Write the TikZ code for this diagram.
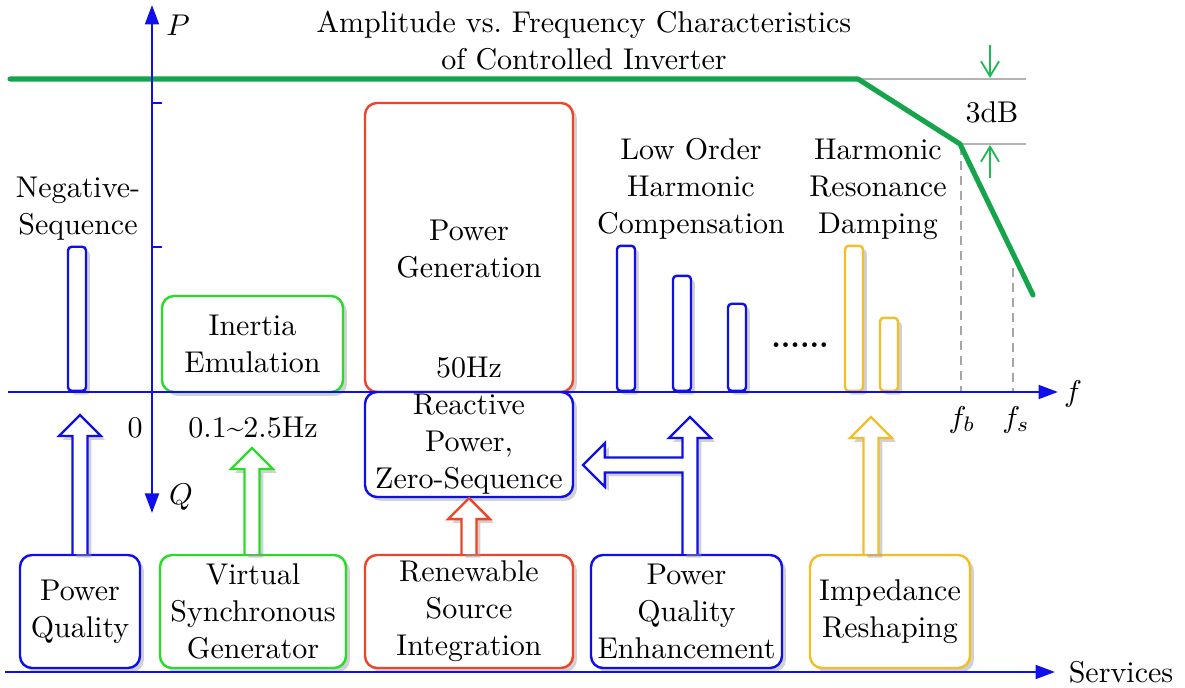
\documentclass[tikz,border=0pt]{standalone}
\usetikzlibrary{arrows.meta,shadows,calc}
\definecolor{cb}{RGB}{15,15,235}
\definecolor{cg}{RGB}{40,220,40}
\definecolor{cr}{RGB}{235,70,40}
\definecolor{cy}{RGB}{245,190,40}
\definecolor{gl}{RGB}{20,165,75}
\definecolor{ga}{RGB}{30,185,80}
\newcommand\hollowup[3]{\draw[harrow,draw=#1] let \p1=(#2), \p2=(#3) in
  (\x2-2.5pt,\y1) -- (\x2-2.5pt,\y2-7pt) -- (\x2-7pt,\y2-7pt) -- (\x2,\y2)
  -- (\x2+7pt,\y2-7pt) -- (\x2+2.5pt,\y2-7pt) -- (\x2+2.5pt,\y1);}
\begin{document}
\begin{tikzpicture}[x=0.33333pt,y=-0.33333pt,
  font=\fontsize{10}{12.33}\selectfont,
  shd/.style={drop shadow={shadow xshift=1.3pt,shadow yshift=-1.3pt,fill=black!40,opacity=0.45}},
  box/.style={draw, line width=0.8pt, rounded corners=4pt, fill=white, inner sep=0pt, align=center, shd},
  bar/.style={draw, line width=0.8pt, rounded corners=1.2pt, fill=white, inner sep=0pt, minimum width=6pt, anchor=south, shd},
  harrow/.style={line width=0.8pt, fill=white, line join=miter, shd},
  axis/.style={cb, line width=0.85pt},
  lbl/.style={align=center, inner sep=0pt},
  gref/.style={black!30, line width=0.8pt},
  gdash/.style={black!35, line width=0.6pt, dash pattern=on 3pt off 2pt},
  tarrow/.style={ga, line width=0.6pt, -{Straight Barb[length=5pt,width=6pt]}}]
\useasboundingbox (0,0) rectangle (1185,688);

% reference lines
\draw[gref] (858,79) -- (1026,79);
\draw[gref] (960,144) -- (1026,144);
\draw[gdash] (961,146) -- (961,392);
\draw[gdash] (1013,268) -- (1013,392);
% green characteristic
\coordinate (c0) at (10,79);
\coordinate (c1) at (858,79);
\coordinate (c2) at (960,144);
\coordinate (c3) at (1033,295);
\draw[gl, line width=1.7pt, line cap=round, line join=round] (c0) -- (c1) -- (c2) -- (c3);
% 3dB arrows
\coordinate (a1s) at (990,45); \coordinate (a1e) at (990,78);
\coordinate (a2s) at (990,178); \coordinate (a2e) at (990,145);
\draw[tarrow] (a1s) -- (a1e);
\draw[tarrow] (a2s) -- (a2e);
\node[lbl] (db) at (992,112) {3dB};

% title
\node[lbl] (title) at (584,41) {Amplitude vs.\ Frequency Characteristics\\of Controlled Inverter};

% upper boxes
\node[box, draw=cr, minimum width=69.33pt, minimum height=96.33pt] (pg) at (469,247.5) {};
\node[lbl] (pgt) at (469,249) {Power\\Generation};
\node[lbl] (hz50) at (469,368) {50Hz};
\node[box, draw=cg, minimum width=60.33pt, minimum height=32pt] (ie) at (252.5,344) {Inertia\\Emulation};
\node[box, draw=cb, minimum width=69.33pt, minimum height=35pt] (rp) at (469,444.5) {Reactive\\Power,\\Zero-Sequence};

% bars
\node[bar, draw=cb, minimum height=48pt] (b0) at (77,392) {};
\node[bar, draw=cb, minimum height=48.33pt] (b1) at (626,392) {};
\node[bar, draw=cb, minimum height=38.33pt] (b2) at (682,392) {};
\node[bar, draw=cb, minimum height=29pt] (b3) at (737,392) {};
\node[bar, draw=cy, minimum height=48.33pt] (y1) at (854,392) {};
\node[bar, draw=cy, minimum height=24.33pt] (y2) at (889,392) {};
\node (dots) at (800,345) {\textbf{......}};

% labels
\node[lbl] (negseq) at (78,209) {Negative-\\Sequence};
\node[lbl] (loh) at (691,189) {Low Order\\Harmonic\\Compensation};
\node[lbl] (hrd) at (878,189) {Harmonic\\Resonance\\Damping};
\node[lbl] (zero) at (135,428) {0};
\node[lbl] (range) at (253,428) {0.1\textasciitilde2.5Hz};

% axes
\coordinate (qend) at (152,513);
\coordinate (pend) at (152,5);
\draw[axis, {Triangle[length=6.5pt,width=4.6pt]}-{Triangle[length=6.5pt,width=4.6pt]}] (qend) -- (pend);
\draw[axis] (152,103) -- (162,103);
\draw[axis] (152,247) -- (162,247);
\coordinate (f0) at (8,392);
\coordinate (f1) at (1058,392);
\draw[axis, -{Triangle[length=6.5pt,width=4.6pt]}] (f0) -- (f1);
\node[lbl] (P) at (178,25) {$P$};
\node[lbl] (Q) at (181,497) {$Q$};
\node[lbl] (f) at (1073,394) {$f$};
\node[lbl] (fb) at (962,420) {$f_b$};
\node[lbl] (fs) at (1016,420) {$f_s$};

% bottom boxes
\node[box, draw=cb, minimum width=40pt, minimum height=37.67pt] (pq) at (80,611.5) {Power\\Quality};
\node[box, draw=cg, minimum width=62pt, minimum height=37.67pt] (vsg) at (253,611.5) {Virtual\\Synchronous\\Generator};
\node[box, draw=cr, minimum width=69.33pt, minimum height=37.67pt] (rsi) at (469,611.5) {Renewable\\Source\\Integration};
\node[box, draw=cb, minimum width=63.67pt, minimum height=37.67pt] (pqe) at (686.5,611.5) {Power\\Quality\\Enhancement};
\node[box, draw=cy, minimum width=53.33pt, minimum height=37.67pt] (imp) at (890,611.5) {Impedance\\Reshaping};

% services axis
\coordinate (s0) at (5,672);
\coordinate (s1) at (1055,672);
\draw[axis, -{Triangle[length=6.5pt,width=4.6pt]}] (s0) -- (s1);
\node[lbl] (serv) at (1121,672) {Services};

% hollow arrows
\coordinate (t1) at (80,415);
\coordinate (t2) at (252,448);
\coordinate (t4) at (690,417);
\coordinate (t5) at (583,465);
\coordinate (t6) at (871,417);
\hollowup{cb}{pq.north}{t1}
\hollowup{cg}{vsg.north}{t2}
\hollowup{cr}{rsi.north}{rp.south}
\hollowup{cy}{imp.north}{t6}
\draw[harrow,draw=cb] let \p1=(pqe.north), \p2=(t4), \p3=(t5) in
  (\x2-2.5pt,\y1) -- (\x2-2.5pt,\y3-2.5pt) -- (\x3+7.3pt,\y3-2.5pt) -- (\x3+7.3pt,\y3-7.3pt)
  -- (\x3,\y3) -- (\x3+7.3pt,\y3+7.3pt) -- (\x3+7.3pt,\y3+2.5pt) -- (\x2-2.5pt,\y3+2.5pt)
  -- (\x2-2.5pt,\y2-7pt) -- (\x2-7pt,\y2-7pt) -- (\x2,\y2) -- (\x2+7pt,\y2-7pt)
  -- (\x2+2.5pt,\y2-7pt) -- (\x2+2.5pt,\y1);
\end{tikzpicture}
\end{document}
